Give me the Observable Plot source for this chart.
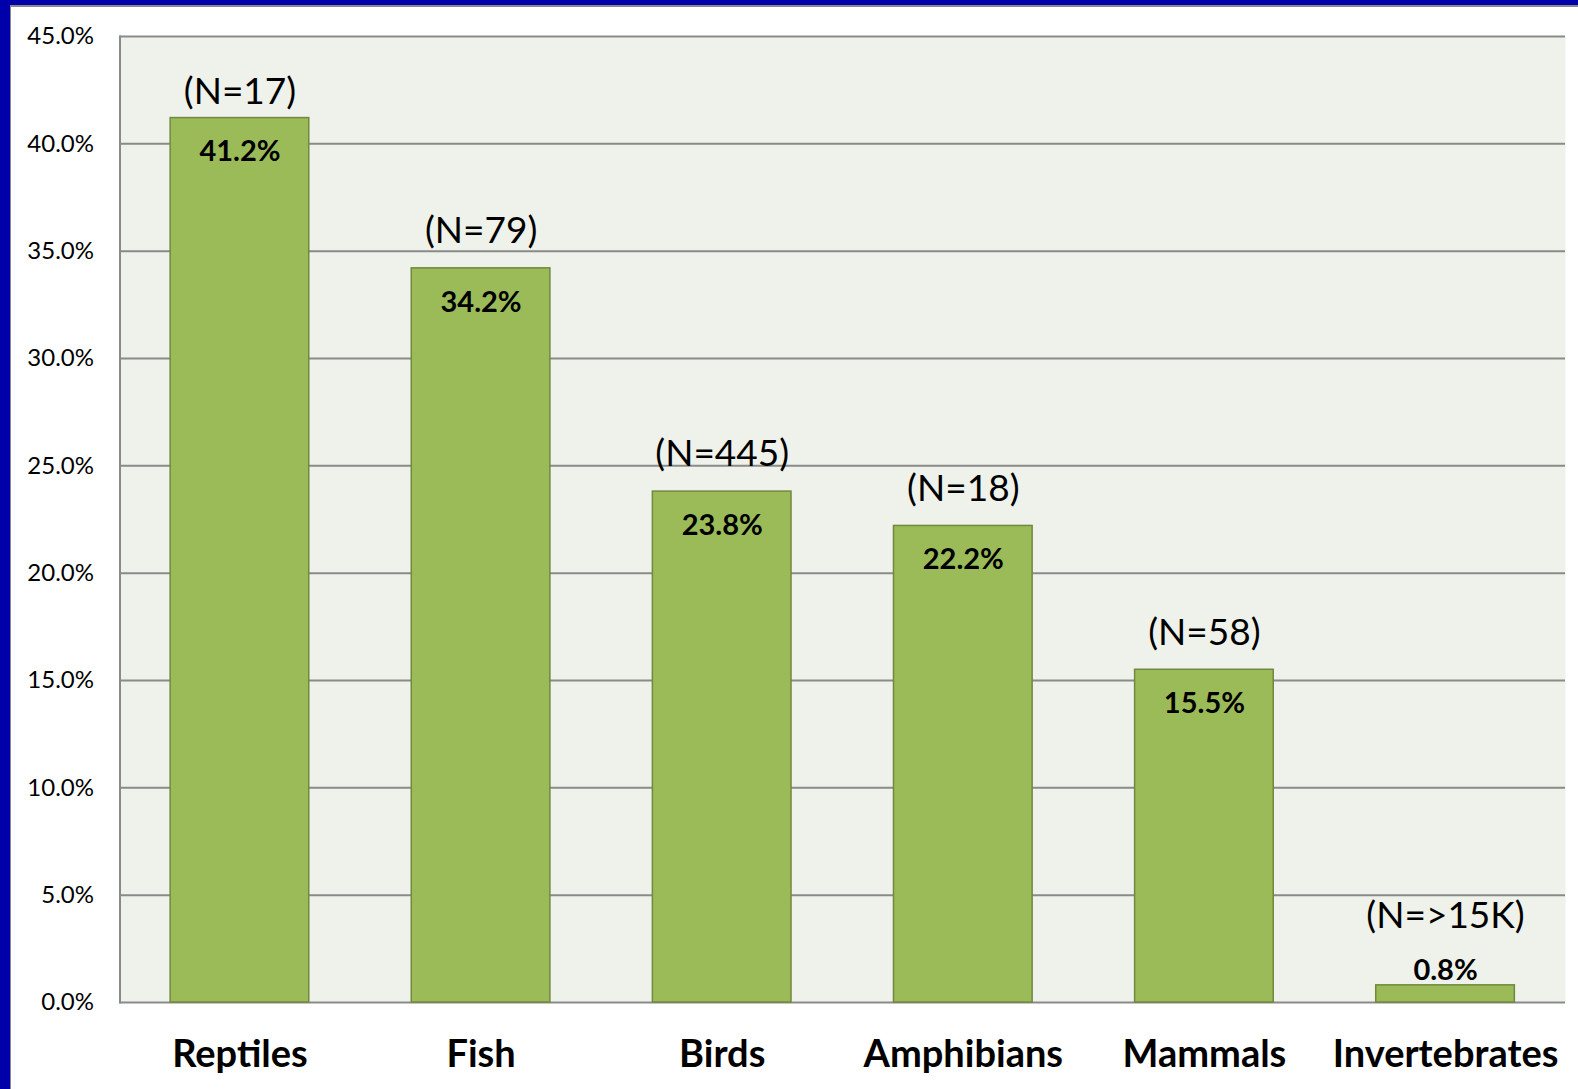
<!DOCTYPE html>
<html>
<head>
<meta charset="utf-8">
<script src="https://cdn.jsdelivr.net/npm/d3@7"></script>
<script src="https://cdn.jsdelivr.net/npm/@observablehq/plot@0.6"></script>
<style>
  html, body { margin: 0; padding: 0; background: #ffffff; }
  #outer { width: 1578px; height: 1089px; background: #0000aa; padding: 5px 0 0 10px; box-sizing: border-box; overflow: hidden; }
  #inner { width: 100%; height: 100%; background: #ffffff; border-left: 1.5px solid #8a8a8a; border-top: 2px solid #8a8a8a; box-sizing: border-box; }
  svg { display: block; }
</style>
</head>
<body>
<div id="outer"><div id="inner"></div></div>
<script>
const categories = ["Reptiles", "Fish", "Birds", "Amphibians", "Mammals", "Invertebrates"];
const percents = [41.2, 34.2, 23.8, 22.2, 15.5, 0.8];
const nLabels = ["(N=17)", "(N=79)", "(N=445)", "(N=18)", "(N=58)", "(N=>15K)"];
const yTicks = [0, 5, 10, 15, 20, 25, 30, 35, 40, 45];

const data = categories.map((c, i) => ({ category: c, value: percents[i], n: nLabels[i] }));
const tall = data.filter(d => d.value >= 5);
const short = data.filter(d => d.value < 5);
const nearTop = tall.filter(d => d.value > 40);
const mid = tall.filter(d => d.value <= 40);
const fmt = v => v.toFixed(1) + "%";

const chart = Plot.plot({
  width: 1566,
  height: 1082,
  marginLeft: 108.5,
  marginRight: 12,
  marginTop: 29,
  marginBottom: 87,
  style: { fontFamily: "Lato, 'Noto Sans', sans-serif", background: "transparent", color: "#000" },
  x: { domain: categories, paddingInner: 0.425, paddingOuter: 0.21, round: false, label: null },
  y: { domain: [0, 45], label: null },
  marks: [
    Plot.frame({ fill: "#eff2ea", stroke: null }),
    Plot.gridY(yTicks, { stroke: "#8a8a8a", strokeOpacity: 1, strokeWidth: 2 }),
    Plot.frame({ anchor: "left", stroke: "#8a8a8a", strokeWidth: 2 }),
    Plot.barY(data, { x: "category", y: "value", fill: "#9bbb59", stroke: "#71893f", strokeWidth: 1.5 }),
    Plot.text(tall, { x: "category", y: "value", text: d => fmt(d.value), dy: 34, fontSize: 29, fontWeight: "bold", fill: "#000" }),
    Plot.text(mid, { x: "category", y: "value", text: "n", dy: -37, fontSize: 37, fill: "#000" }),
    Plot.text(nearTop, { x: "category", y: "value", text: "n", dy: -26, fontSize: 37, fill: "#000" }),
    Plot.text(short, { x: "category", y: "value", text: d => fmt(d.value), dy: -15, fontSize: 29, fontWeight: "bold", fill: "#000" }),
    Plot.text(short, { x: "category", y: "value", text: "n", dy: -69, fontSize: 37, fill: "#000" }),
    Plot.axisY({ ticks: yTicks, tickFormat: fmt, tickSize: 0, tickPadding: 26, fontSize: 24, label: null }),
    Plot.axisX({ tickSize: 0, tickPadding: 38, fontSize: 38, fontWeight: "bold", label: null })
  ]
});
document.getElementById("inner").appendChild(chart);
</script>
</body>
</html>
